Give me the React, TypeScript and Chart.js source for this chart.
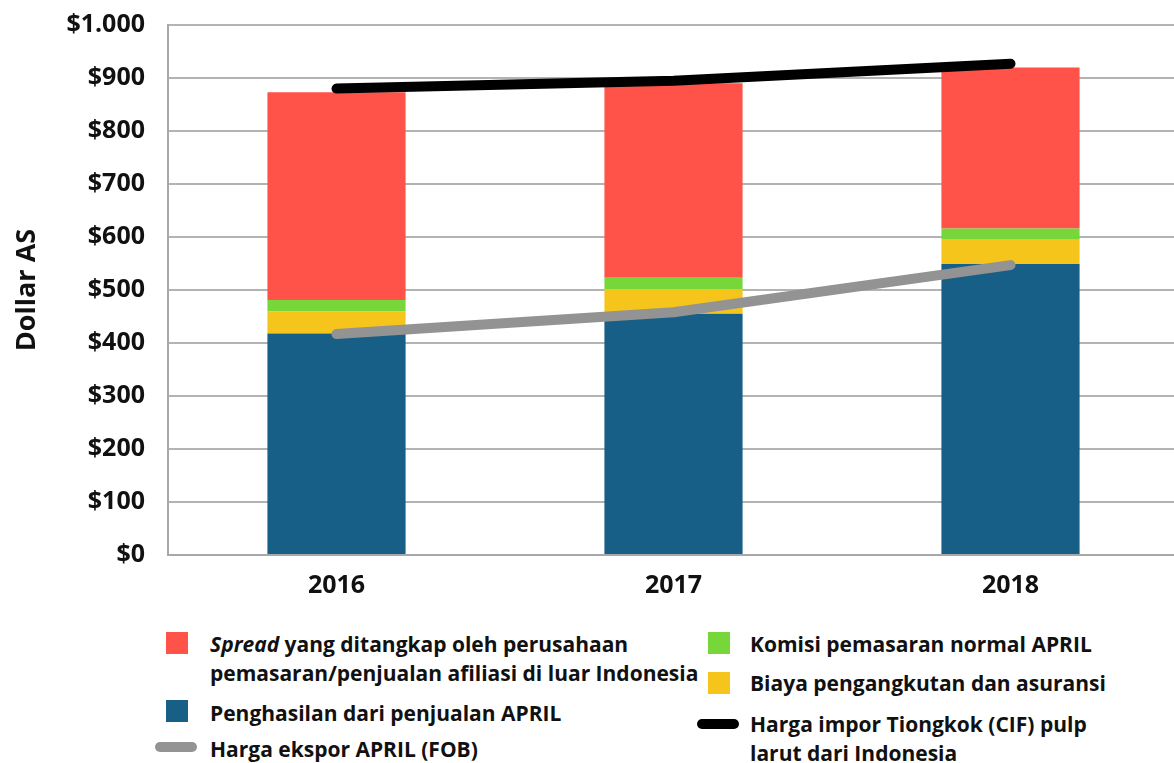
import React, { useEffect, useRef } from "react";
import { Chart, registerables } from "chart.js";

Chart.register(...registerables);

const years = ["2016", "2017", "2018"];
const penghasilan = [418, 455, 549];
const biaya = [42, 47, 47];
const komisi = [21, 21, 20];
const spread = [392, 367, 304];
const hargaImpor = [880, 895, 927];
const hargaEkspor = [417, 458, 547];
const yTicks = [0, 100, 200, 300, 400, 500, 600, 700, 800, 900, 1000];

const FONT = "'Open Sans', 'Noto Sans', sans-serif";

export default function App() {
  const ref = useRef<HTMLCanvasElement | null>(null);
  useEffect(() => {
    if (!ref.current) return;
    const chart = new Chart(ref.current, {
      type: "bar",
      data: {
        labels: years,
        datasets: [
          { type: "line", label: "Harga impor", data: hargaImpor, borderColor: "#000", backgroundColor: "#000", borderWidth: 10, borderCapStyle: "round", borderJoinStyle: "round", pointRadius: 0, stack: "l1", order: 0 } as any,
          { type: "line", label: "Harga ekspor", data: hargaEkspor, borderColor: "#939393", backgroundColor: "#939393", borderWidth: 10, borderCapStyle: "round", borderJoinStyle: "round", pointRadius: 0, stack: "l2", order: 0 } as any,
          { label: "Penghasilan", data: penghasilan, backgroundColor: "#185F87", stack: "b", order: 1 },
          { label: "Biaya", data: biaya, backgroundColor: "#F5C51C", stack: "b", order: 1 },
          { label: "Komisi", data: komisi, backgroundColor: "#76D63A", stack: "b", order: 1 },
          { label: "Spread", data: spread, backgroundColor: "#FF5249", stack: "b", order: 1 },
        ],
      },
      options: {
        animation: false,
        responsive: false,
        maintainAspectRatio: false,
        layout: { padding: { top: 25, right: 0, left: 0, bottom: 0 } },
        plugins: { legend: { display: false }, tooltip: { enabled: false } },
        datasets: { bar: { barPercentage: 0.41, categoryPercentage: 1 } },
        scales: {
          x: {
            stacked: true,
            grid: { display: false, drawTicks: false },
            border: { display: true, color: "#a8a8a8", width: 2 },
            ticks: { color: "#111", font: { family: FONT, size: 25, weight: "bold" }, padding: 16 },
            afterFit: (s: any) => { s.height = 55; s.paddingLeft = 0; s.paddingRight = 0; },
          },
          y: {
            stacked: true,
            min: 0,
            max: 1000,
            afterBuildTicks: (s: any) => { s.ticks = yTicks.map((v) => ({ value: v })); },
            grid: { color: "#b3b3b3", lineWidth: 2, drawTicks: false },
            border: { display: true, color: "#a8a8a8", width: 2 },
            ticks: {
              color: "#111",
              font: { family: FONT, size: 25, weight: "bold" },
              padding: 23,
              callback: (v: any) => "$" + Number(v).toLocaleString("de-DE"),
            },
            title: { display: true, text: "Dollar AS", color: "#111", font: { family: FONT, size: 27, weight: "bold" }, padding: { top: 11, bottom: 0 } },
            afterFit: (s: any) => { s.width = 168; s.paddingTop = 0; s.paddingBottom = 0; },
          },
        },
      },
    });
    return () => chart.destroy();
  }, []);

  const text: React.CSSProperties = { position: "absolute", fontFamily: FONT, fontWeight: 700, fontSize: 21, color: "#111", lineHeight: "29px", whiteSpace: "nowrap" };
  const sq = (left: number, top: number, color: string): React.CSSProperties => ({ position: "absolute", left, top, width: 22, height: 22, background: color });
  const ln = (left: number, top: number, color: string): React.CSSProperties => ({ position: "absolute", left, top, width: 42, height: 10, borderRadius: 5, background: color });

  return (
    <div style={{ position: "absolute", left: 0, top: 0, width: 1174, height: 763, overflow: "hidden", background: "#fff" }}>
      <canvas ref={ref} width={1179} height={610} style={{ position: "absolute", left: 0, top: 0, width: 1179, height: 610 }} />
      <div style={sq(166, 632, "#FF5249")} />
      <div style={{ ...text, left: 210, top: 630 }}>
        <i>Spread</i> yang ditangkap oleh perusahaan<br />pemasaran/penjualan afiliasi di luar Indonesia
      </div>
      <div style={sq(166, 700, "#185F87")} />
      <div style={{ ...text, left: 210, top: 699 }}>Penghasilan dari penjualan APRIL</div>
      <div style={ln(155, 742, "#939393")} />
      <div style={{ ...text, left: 210, top: 735 }}>Harga ekspor APRIL (FOB)</div>
      <div style={sq(708, 632, "#76D63A")} />
      <div style={{ ...text, left: 750, top: 630 }}>Komisi pemasaran normal APRIL</div>
      <div style={sq(708, 672, "#F5C51C")} />
      <div style={{ ...text, left: 750, top: 669 }}>Biaya pengangkutan dan asuransi</div>
      <div style={ln(697, 719, "#000")} />
      <div style={{ ...text, left: 750, top: 710 }}>
        Harga impor Tiongkok (CIF) pulp<br />larut dari Indonesia
      </div>
    </div>
  );
}
